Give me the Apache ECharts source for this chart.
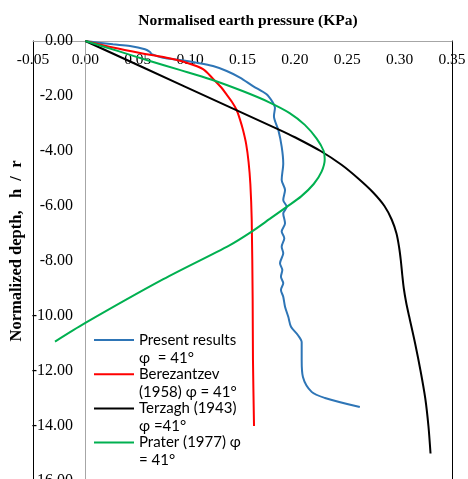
<!DOCTYPE html>
<html>
<head>
<meta charset="utf-8">
<script src="https://cdn.jsdelivr.net/npm/echarts@6/dist/echarts.min.js"></script>
<style>html,body{margin:0;padding:0;background:#fff;}#c{width:468px;height:479px;}</style>
</head>
<body>
<div id="c"></div>
<script>
// Series values: [normalised earth pressure, normalised depth h/r]
const presentResults = [[0,0],[0.0263,-0.12],[0.0426,-0.18],[0.0569,-0.30],[0.0617,-0.40],[0.0633,-0.48],[0.0741,-0.61],[0.0903,-0.69],[0.1063,-0.79],[0.1218,-0.91],[0.1349,-1.09],[0.1476,-1.33],[0.160,-1.64],[0.173,-1.94],[0.179,-2.24],[0.181,-2.43],[0.180,-2.73],[0.1842,-3.24],[0.1874,-3.84],[0.1889,-4.45],[0.1874,-5.05],[0.1906,-5.42],[0.1889,-5.78],[0.1922,-6.03],[0.1889,-6.27],[0.1906,-6.63],[0.1874,-6.93],[0.1899,-7.17],[0.1874,-7.48],[0.1889,-7.72],[0.1858,-8.08],[0.1880,-8.33],[0.1867,-8.57],[0.1889,-8.81],[0.1867,-9.05],[0.1889,-9.30],[0.1906,-9.66],[0.1937,-10.03],[0.1963,-10.39],[0.2030,-10.70],[0.2065,-10.95],[0.2065,-11.60],[0.2077,-12.22],[0.216,-12.76],[0.2287,-12.98],[0.262,-13.31]];
const berezantzev = [[0,0],[0.0263,-0.24],[0.0585,-0.48],[0.0776,-0.61],[0.0967,-0.79],[0.1123,-1.02],[0.122,-1.38],[0.1300,-1.70],[0.1349,-1.95],[0.1400,-2.22],[0.1444,-2.51],[0.1477,-2.87],[0.1505,-3.24],[0.1535,-3.75],[0.1558,-4.4],[0.1575,-5.2],[0.1588,-6.5],[0.1597,-9.42],[0.1600,-11.6],[0.1610,-14.0]];
const terzaghi = [[0,0],[0.0929,-1.62],[0.1858,-3.24],[0.200,-3.5],[0.2245,-4.0],[0.2445,-4.5],[0.2605,-5.0],[0.2745,-5.5],[0.2855,-6.0],[0.2925,-6.5],[0.2970,-7.0],[0.2995,-7.5],[0.3012,-8.0],[0.3025,-8.5],[0.3040,-9.0],[0.3062,-9.5],[0.3090,-10.0],[0.3148,-11.0],[0.3200,-12.0],[0.3245,-13.0],[0.3275,-14.0],[0.3295,-15.0]];
const prater = [[0,0],[0.03,-0.35],[0.06,-0.71],[0.09,-1.05],[0.12,-1.40],[0.15,-1.82],[0.175,-2.22],[0.195,-2.62],[0.2095,-3.05],[0.2208,-3.55],[0.2275,-4.0],[0.2285,-4.3],[0.2255,-4.75],[0.218,-5.2],[0.206,-5.65],[0.1922,-6.03],[0.176,-6.47],[0.1588,-6.93],[0.138,-7.42],[0.0744,-8.66],[0,-10.25],[-0.029,-10.93]];

const seriesNames = ['Present results\nφ  = 41°','Berezantzev\n(1958) φ = 41°','Terzagh (1943)\nφ =41°','Prater (1977) φ\n= 41°'];
const seriesColors = ['#2E75B6','#FF0000','#000000','#00B050'];
const seriesData = [presentResults, berezantzev, terzaghi, prater];

const xTitle = 'Normalised earth pressure (KPa)';
const yTitle = 'Normalized depth,   h  /  r';
const xMin = -0.05, xMax = 0.35, xStep = 0.05;
const yMin = -16, yMax = 0, yStep = 2;

const chart = echarts.init(document.getElementById('c'), null, {renderer:'canvas'});
const serif = '"Liberation Serif", "Times New Roman", serif';
const labelCommon = {color: '#000', fontFamily: serif, showMinLabel: true, showMaxLabel: true, hideOverlap: false, formatter: v => v.toFixed(2)};
chart.setOption({
  animation: false,
  backgroundColor: '#fff',
  grid: {left: 33, top: 41, width: 419, height: 440, containLabel: false, outerBoundsMode: 'none'},
  xAxis: {
    type: 'value', min: xMin, max: xMax, interval: xStep, position: 'top',
    axisLine: {show: true, onZero: false, lineStyle: {color: '#a6a6a6', width: 1}},
    axisTick: {show: false},
    splitLine: {show: false},
    axisLabel: Object.assign({inside: true, margin: 11, fontSize: 15.5}, labelCommon)
  },
  yAxis: [{
    type: 'value', min: yMin, max: yMax, interval: yStep, position: 'left',
    axisLine: {show: true, onZero: false, lineStyle: {color: '#000', width: 1}},
    axisTick: {show: false},
    splitLine: {show: false},
    axisLabel: Object.assign({inside: true, margin: 40, align: 'right', fontSize: 16}, labelCommon)
  }, {
    type: 'value', min: yMin, max: yMax, interval: yStep, position: 'right',
    axisLine: {show: true, onZero: false, lineStyle: {color: '#000', width: 1}},
    axisTick: {show: false}, splitLine: {show: false}, axisLabel: {show: false}
  }],
  legend: {
    orient: 'vertical', left: 93, top: 313, padding: 0, itemGap: -19.8,
    itemWidth: 40, itemHeight: 14,
    data: seriesNames,
    formatter: name => '\n' + name,
    itemStyle: {opacity: 0},
    textStyle: {fontFamily: 'Lato, "Open Sans", sans-serif', fontSize: 15, color: '#000', lineHeight: 18}
  },
  graphic: [
    {type: 'text', x: 248, y: 21, style: {text: xTitle, font: 'bold 15.5px ' + serif, fill: '#000', align: 'center', verticalAlign: 'middle'}},
    {type: 'text', x: 17, y: 251, rotation: Math.PI/2, style: {text: yTitle, font: 'bold 16.5px ' + serif, fill: '#000', align: 'center', verticalAlign: 'middle'}}
  ],
  series: seriesData.map((d, i) => {
    const s = {
      name: seriesNames[i], type: 'line', data: d, smooth: 0.3, symbol: 'none', showSymbol: false,
      lineStyle: {color: seriesColors[i], width: 2}, itemStyle: {color: seriesColors[i]}
    };
    if (i === 0) {
      s.markLine = {silent: true, symbol: 'none', label: {show: false}, lineStyle: {color: '#a6a6a6', width: 1, type: 'solid'}, data: [{xAxis: 0}], z: 1};
    }
    return s;
  })
});
</script>
</body>
</html>
